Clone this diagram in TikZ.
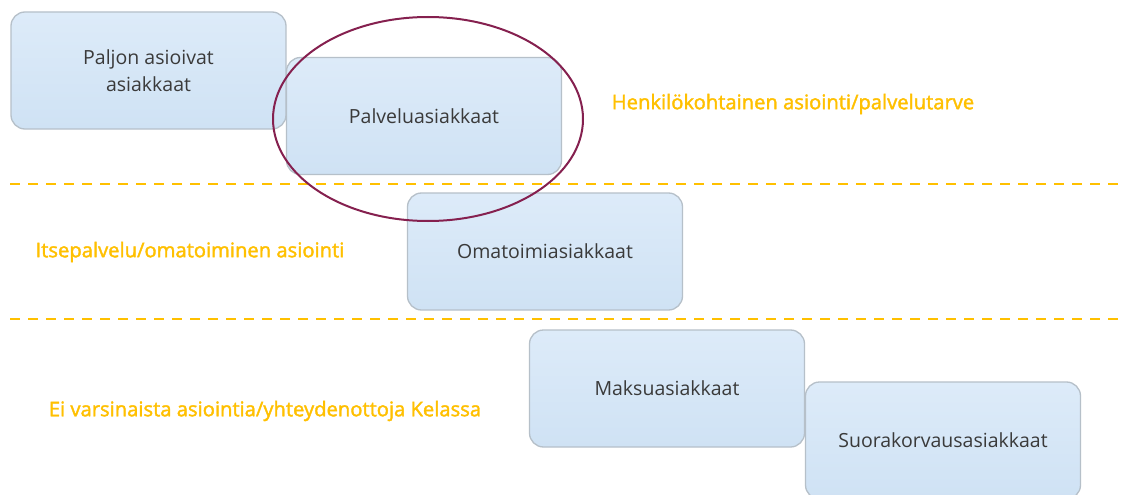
\documentclass[tikz,border=0pt]{standalone}
\usepackage{fontspec}
\setmainfont{Open Sans}
\newfontfamily\orfont[FakeBold=1.8]{Open Sans}
\definecolor{boxtop}{HTML}{DDEBF9}
\definecolor{boxbot}{HTML}{CFE2F4}
\definecolor{boxborder}{HTML}{B6C0C9}
\definecolor{boxtext}{HTML}{3A3A3A}
\definecolor{gold}{HTML}{FFC000}
\definecolor{maroon}{HTML}{85204F}
\begin{document}
\begin{tikzpicture}[x=1pt,y=-1pt,
  box/.style={draw=boxborder, line width=1.3pt, rounded corners=14pt,
    top color=boxtop, bottom color=boxbot, minimum width=275pt, minimum height=117pt,
    text=boxtext, font=\fontsize{19.5}{27}\selectfont, align=center, inner sep=0pt},
  lbl/.style={text=gold, font=\orfont\fontsize{20.2}{24}\selectfont, inner sep=0pt},
  sep/.style={draw=gold, line width=2.6pt, dash pattern=on 10pt off 8pt}]
\useasboundingbox (0,0) rectangle (1125,495);
\clip (0,0) rectangle (1125,495);
\fill[white] (0,0) rectangle (1125,495);
\coordinate (s1a) at (10,184);
\coordinate (s1b) at (1125,184);
\coordinate (s2a) at (10,319);
\coordinate (s2b) at (1125,319);
\draw[sep] (s1a) -- (s1b);
\draw[sep] (s2a) -- (s2b);
\node[box] (b1) at (148.5,70.5) {Paljon asioivat\\asiakkaat};
\node[box] (b2) at (424,116) {Palveluasiakkaat};
\node[box] (b3) at (545,251.5) {Omatoimiasiakkaat};
\node[box] (b4) at (667,388.5) {Maksuasiakkaat};
\node[box] (b5) at (943,440.5) {Suorakorvausasiakkaat};
\node[lbl] (l1) at (793,104) {Henkilökohtainen asiointi/palvelutarve};
\node[lbl] (l2) at (190,252) {Itsepalvelu/omatoiminen asiointi};
\node[lbl] (l3) at (265,411) {Ei varsinaista asiointia/yhteydenottoja Kelassa};
\draw[maroon, line width=2pt] (b2.center) ++(4,3) ellipse [x radius=155, y radius=102];
\end{tikzpicture}
\end{document}
